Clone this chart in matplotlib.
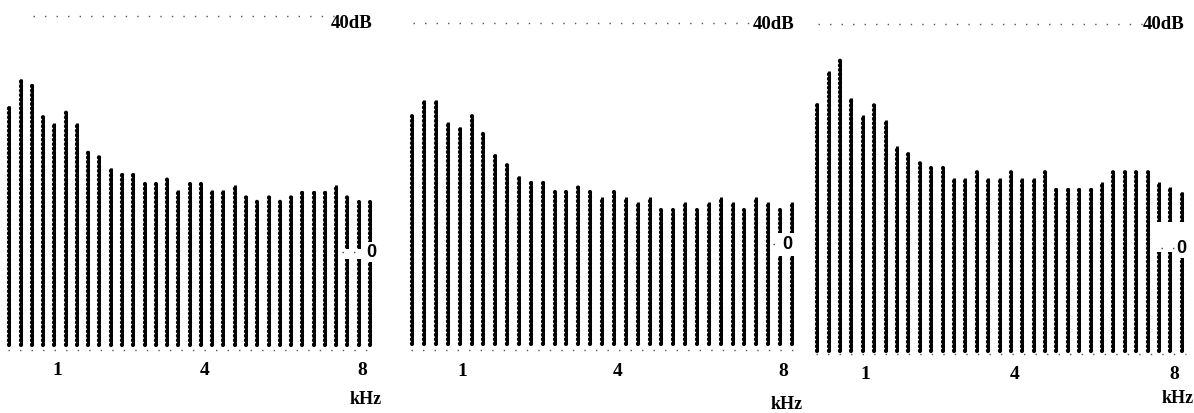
import matplotlib
matplotlib.use("Agg")
import matplotlib.pyplot as plt
from matplotlib.patches import Rectangle
import numpy as np

# Spectral levels (dB) of the 33 frequency bands, three recordings
levels_a = [24.7, 29.3, 28.5, 22.9, 21.9, 23.7, 21.9, 17.1, 16.3, 14.2, 13.4,
            13.4, 11.5, 11.5, 12.4, 10.5, 11.5, 11.5, 10.5, 10.5, 11.4, 9.5,
            8.6, 9.5, 8.6, 9.5, 10.3, 10.3, 10.3, 11.4, 9.3, 8.5, 8.5]
levels_b = [23.1, 26.0, 26.0, 22.1, 21.2, 23.1, 20.1, 16.3, 14.3, 12.3, 11.4,
            11.4, 9.4, 9.4, 10.5, 9.4, 8.5, 9.4, 8.5, 7.6, 8.5, 6.1,
            6.1, 7.6, 6.1, 7.6, 8.5, 7.6, 6.1, 8.5, 7.6, 6.1, 7.6]
levels_c = [25.9, 31.6, 33.6, 26.8, 23.8, 25.7, 22.9, 18.2, 17.1, 15.2, 14.3,
            14.3, 12.5, 12.5, 13.6, 12.5, 12.5, 13.6, 12.5, 12.5, 13.6, 10.7,
            10.7, 10.7, 10.7, 11.8, 13.8, 13.8, 13.8, 13.8, 11.8, 10.9, 10.0]

freq_ticks = ["1", "4", "8"]
unit_label = "kHz"
ref_label = "40dB"
ref_level = 40
zero_label = "0"

W, H = 1194, 414
fig = plt.figure(figsize=(W / 100, H / 100), dpi=100)

SERIF = ["Liberation Serif", "DejaVu Serif"]
NARROW = ["Liberation Sans Narrow", "Liberation Sans", "DejaVu Sans"]

# Per-panel geometry in pixels: first band x, band step, 0 dB row,
# pixels per dB, foot of the columns, baseline row, label offsets
panels = [
    dict(levels=levels_a, x0=9.3, step=11.27, zero=253, k=5.90, foot=346,
         base=351, top_from=2.1, tick_dy=20, unit_dy=49, ref_dy=7,
         gap=(29.5, 31.6, 250, 260), dots=(29.5, 31.6), zero_x=32.1),
    dict(levels=levels_b, x0=412.3, step=11.86, zero=245, k=5.53, foot=345,
         base=351, top_from=0.1, tick_dy=21, unit_dy=54, ref_dy=1,
         gap=(30.5, 32.4, 234, 257), dots=(30.4, 30.9), zero_x=31.6),
    dict(levels=levels_c, x0=817.3, step=11.39, zero=249, k=5.60, foot=352,
         base=355, top_from=0.1, tick_dy=20, unit_dy=44, ref_dy=-1,
         gap=(29.6, 32.5, 223, 253), dots=(30.2, 31.3), zero_x=32.0),
]
tick_pos = [4.25, 17.3, 31.3]

for p in panels:
    ax = fig.add_axes([0, 0, 1, 1])
    ax.set_axis_off()
    ax.patch.set_alpha(0)
    x0, s, z, k = p["x0"], p["step"], p["zero"], p["k"]
    ax.set_xlim(-x0 / s, (W - x0) / s)
    ax.set_ylim((z - H) / k, z / k)

    def db(py):
        return (z - py) / k

    levels = np.asarray(p["levels"])
    xs = np.arange(len(levels))

    # beaded columns: solid core with a string of dots over it
    ax.vlines(xs, db(p["foot"]), levels, colors="black", linewidth=2.1,
              zorder=2)
    ax.vlines(xs, db(p["foot"]), levels, colors="black", linewidth=3.0,
              linestyles=(0, (0.12, 0.95)), capstyle="round", zorder=2)

    # dotted baseline and 40 dB reference line
    ax.plot([-0.1, 32.4], [db(p["base"])] * 2, color="#555555", lw=1.0,
            linestyle=(0, (1, 7.3)), zorder=1)
    ax.plot([p["top_from"], 29.0], [ref_level] * 2, color="#555555", lw=1.0,
            linestyle=(0, (1, 7.3)), zorder=1)
    ax.annotate(ref_label, (32.2, ref_level), xytext=(0, -p["ref_dy"] * 0.72),
                textcoords="offset points", ha="right", va="center",
                fontsize=13.5, fontweight="bold", family=SERIF)

    # 0 dB marker cut into the last columns
    gx0, gx1, gy0, gy1 = p["gap"]
    ax.add_patch(Rectangle((gx0, db(gy1)), gx1 - gx0, db(gy0) - db(gy1),
                           facecolor="white", edgecolor="none", zorder=3))
    ax.plot([p["dots"][0], p["dots"][1]], [0, 0], color="#444444", lw=1.0,
            linestyle=(0, (1, 7.3)), zorder=4)
    ax.text(p["zero_x"], 0, zero_label, ha="center", va="center",
            fontsize=13, fontweight="bold", family=NARROW, zorder=5,
            bbox=dict(facecolor="white", edgecolor="none", pad=1.0))

    # frequency labels
    for tx, tl in zip(tick_pos, freq_ticks):
        ax.annotate(tl, (tx, db(p["base"])), xytext=(0, -p["tick_dy"] * 0.72),
                    textcoords="offset points", ha="center", va="center",
                    fontsize=14, fontweight="bold", family=SERIF)
    ax.annotate(unit_label, (31.6, db(p["base"])),
                xytext=(0, -p["unit_dy"] * 0.72), textcoords="offset points",
                ha="center", va="center", fontsize=13, fontweight="bold",
                family=SERIF)

fig.savefig("out.png", dpi=100, facecolor="white")
